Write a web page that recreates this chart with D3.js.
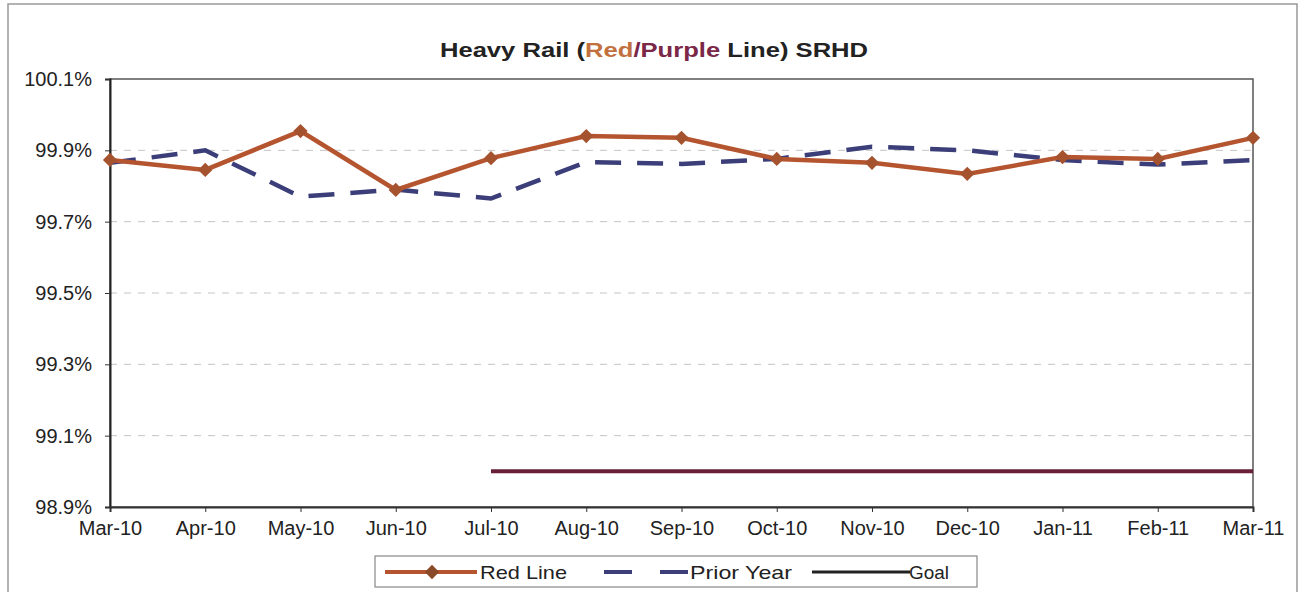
<!DOCTYPE html>
<html><head><meta charset="utf-8">
<script src="https://cdn.jsdelivr.net/npm/d3@7"></script>
<style>body{margin:0;background:#fff;} svg{display:block;font-family:"Liberation Sans",Arial,sans-serif;}</style>
</head><body>
<script>
const months = ["Mar-10","Apr-10","May-10","Jun-10","Jul-10","Aug-10","Sep-10","Oct-10","Nov-10","Dec-10","Jan-11","Feb-11","Mar-11"];
const redLine = [99.873,99.845,99.954,99.789,99.878,99.940,99.935,99.876,99.865,99.834,99.881,99.876,99.935];
const priorYear = [99.865,99.900,99.770,99.790,99.765,99.867,99.862,99.876,99.910,99.900,99.873,99.860,99.873];
const goalMonths = ["Jul-10","Aug-10","Sep-10","Oct-10","Nov-10","Dec-10","Jan-11","Feb-11","Mar-11"];
const goal = [99.0,99.0,99.0,99.0,99.0,99.0,99.0,99.0,99.0];
const yTicks = [98.9,99.1,99.3,99.5,99.7,99.9,100.1];

const W=1301,H=592;
const m={left:110,right:1253,top:79,bottom:507};
const svg=d3.select("body").append("svg").attr("width",W).attr("height",H);

// outer frame
svg.append("rect").attr("x",8).attr("y",4).attr("width",1289).attr("height",620)
  .attr("fill","none").attr("stroke","#999").attr("stroke-width",1.5);

const x=d3.scalePoint().domain(months).range([m.left,m.right]);
const y=d3.scaleLinear().domain([98.9,100.1]).range([m.bottom,m.top]);

// gridlines
svg.append("g").selectAll("line").data(yTicks.filter(t=>t>98.95&&t<100.05)).join("line")
  .attr("x1",m.left).attr("x2",m.right).attr("y1",d=>y(d)).attr("y2",d=>y(d))
  .attr("stroke","#c4c4c4").attr("stroke-width",1).attr("stroke-dasharray","7,7");

// plot box
svg.append("rect").attr("x",m.left).attr("y",m.top).attr("width",m.right-m.left).attr("height",m.bottom-m.top)
  .attr("fill","none").attr("stroke","#555").attr("stroke-width",1.5);

// axes
const yAxis=d3.axisLeft(y).tickValues(yTicks).tickSize(5).tickPadding(13).tickFormat(d=>d3.format(".1f")(d)+"%");
const gy=svg.append("g").attr("transform",`translate(${m.left},0)`).call(yAxis);
gy.attr("font-size",null).attr("font-family",null);
gy.select(".domain").attr("stroke","#222").attr("stroke-width",2);
gy.selectAll(".tick line").attr("stroke","#333");
gy.selectAll("text").style("font-size","20px").attr("fill","#222");

const xAxis=d3.axisBottom(x).tickSize(5).tickPadding(9);
const gx=svg.append("g").attr("transform",`translate(0,${m.bottom})`).call(xAxis);
gx.attr("font-size",null).attr("font-family",null);
gx.select(".domain").attr("stroke","#333").attr("stroke-width",2);
gx.selectAll(".tick line").attr("stroke","#333");
gx.selectAll("text").style("font-size","20px").attr("fill","#222");

const line=d3.line().x((d,i)=>x(months[i])).y(d=>y(d));
const redC="#b4552f", priorC="#3b3e78", goalC="#6a1f38";

// goal
svg.append("path").datum(goal)
  .attr("d",d3.line().x((d,i)=>x(goalMonths[i])).y(d=>y(d)))
  .attr("fill","none").attr("stroke",goalC).attr("stroke-width",4);

// prior year
svg.append("path").datum(priorYear).attr("d",line)
  .attr("fill","none").attr("stroke",priorC).attr("stroke-width",4.5).attr("stroke-dasharray","26,16");

// red line
svg.append("path").datum(redLine).attr("d",line)
  .attr("fill","none").attr("stroke",redC).attr("stroke-width",4.5);
const diamond=d3.symbol().type(d3.symbolDiamond2).size(130);
svg.append("g").selectAll("path").data(redLine).join("path")
  .attr("d",diamond).attr("transform",(d,i)=>`translate(${x(months[i])},${y(d)})`)
  .attr("fill","#a5522f");

// title (glyphs stretched horizontally like the scanned original)
const t=svg.append("text").attr("x",0).attr("y",0)
  .attr("transform","translate(654,57) scale(1.28,1)").attr("text-anchor","middle")
  .style("font-size","20px").attr("font-weight","bold").attr("fill","#222");
t.append("tspan").text("Heavy Rail (");
t.append("tspan").attr("fill","#c2703e").text("Red");
t.append("tspan").attr("fill","#7b2747").text("/Purple");
t.append("tspan").text(" Line) SRHD");

// legend
const lg=svg.append("g");
lg.append("rect").attr("x",375).attr("y",556).attr("width",602).attr("height",31)
  .attr("fill","#fff").attr("stroke","#888").attr("stroke-width",1.2);
const ly=572;
lg.append("line").attr("x1",385).attr("x2",477).attr("y1",ly).attr("y2",ly).attr("stroke",redC).attr("stroke-width",4);
lg.append("path").attr("d",diamond).attr("transform",`translate(432,${ly})`).attr("fill","#8a4a2a");
lg.append("text").attr("x",480).attr("y",ly+7).attr("textLength",87).attr("lengthAdjust","spacingAndGlyphs")
  .style("font-size","19px").attr("fill","#222").text("Red Line");
lg.append("line").attr("x1",604).attr("x2",690).attr("y1",ly).attr("y2",ly).attr("stroke",priorC).attr("stroke-width",4).attr("stroke-dasharray","28,28");
lg.append("text").attr("x",690).attr("y",ly+7).attr("textLength",102).attr("lengthAdjust","spacingAndGlyphs")
  .style("font-size","19px").attr("fill","#222").text("Prior Year");
lg.append("line").attr("x1",812).attr("x2",910).attr("y1",ly).attr("y2",ly).attr("stroke","#222").attr("stroke-width",3);
lg.append("text").attr("x",909).attr("y",ly+7).attr("textLength",40).attr("lengthAdjust","spacingAndGlyphs")
  .style("font-size","19px").attr("fill","#222").text("Goal");
</script>
</body></html>
